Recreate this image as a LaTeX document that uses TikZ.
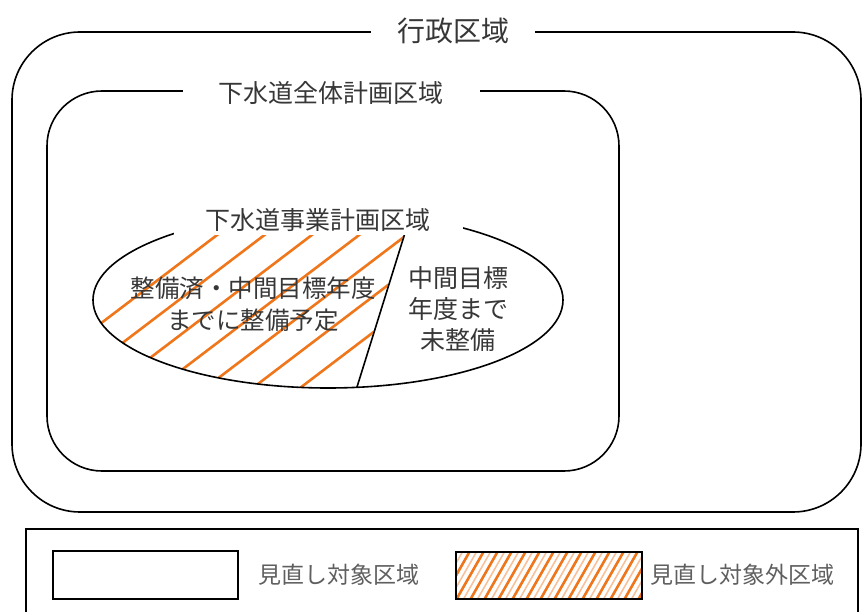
\documentclass[tikz,border=0pt]{standalone}
\usepackage{fontspec}
\setmainfont{Noto Sans CJK JP}
\definecolor{hatchorange}{RGB}{240,118,28}
\definecolor{txtgray}{RGB}{55,55,55}
\definecolor{leggray}{RGB}{95,95,95}
\tikzset{
  frame/.style={draw=black, line width=1.6pt},
  gaptitle/.style={fill=white, text=txtgray, inner ysep=1pt, anchor=center},
  bodytext/.style={text=txtgray, align=center, inner sep=0pt},
  hatchline/.style={draw=hatchorange, line width=2.6pt},
  leghatch/.style={draw=hatchorange, line width=2.6pt},
  leghatchlight/.style={draw=hatchorange!45, line width=1.6pt},
  legtext/.style={text=leggray, anchor=west, inner sep=0pt, font=\fontsize{23}{28}\selectfont}
}
\begin{document}
\begin{tikzpicture}[x=1pt,y=-1pt]
\useasboundingbox (0,0) rectangle (863,612);
\clip (0,0) rectangle (863,612);

% outer administrative area
\draw[frame, rounded corners=68pt] (12,32) rectangle (861,512);
\node[gaptitle, inner xsep=26pt, font=\fontsize{28}{32}\selectfont] (gyosei) at (453,31) {行政区域};

% whole sewer plan area
\draw[frame, rounded corners=55pt] (47,91) rectangle (619,471);
\node[gaptitle, inner xsep=36pt, font=\fontsize{25}{30}\selectfont] (zentai) at (331,93) {下水道全体計画区域};

% divider coordinates
\coordinate (d1) at (405,233);
\coordinate (d2) at (357,387);

% hatching of the left part
\begin{scope}
  \clip (328,300) ellipse [x radius=235, y radius=88];
  \clip (60,195) -- (416,195) -- (352,400) -- (60,400) -- cycle;
  \foreach \c in {400,436,472,508,544,580,616} {
    \draw[hatchline] (60,{\c-45.6}) -- (460,{\c-349.6});
  }
\end{scope}

% business plan area ellipse
\draw[frame] (328,300) ellipse [x radius=235, y radius=88];
\draw[frame] (d1) -- (d2);
\node[gaptitle, inner xsep=32pt, inner ysep=2pt, minimum height=30pt, font=\fontsize{25}{30}\selectfont] (jigyo) at (318,220) {下水道事業計画区域};

% texts inside the ellipse
\node[bodytext, font=\fontsize{24.5}{32}\selectfont] (seibi) at (253,304) {整備済・中間目標年度\\までに整備予定};
\node[bodytext, font=\fontsize{25}{31}\selectfont] (miseibi) at (458,309) {中間目標\\年度まで\\未整備};

% legend
\draw[line width=1.2pt, draw=black] (26,529) rectangle (858,640);
\draw[frame] (53,551) rectangle (238,599);
\node[legtext] (leg1) at (258,575) {見直し対象区域};
\begin{scope}
  \clip (456,552) rectangle (642,599);
  \foreach \i in {-4,...,14} {
    \draw[leghatchlight] ({456+\i*14+7},600) -- ({456+\i*14+7+28},551);
    \draw[leghatch] ({456+\i*14},600) -- ({456+\i*14+28},551);
  }
\end{scope}
\draw[frame] (456,552) rectangle (642,599);
\node[legtext] (leg2) at (650,575) {見直し対象外区域};
\end{tikzpicture}
\end{document}
